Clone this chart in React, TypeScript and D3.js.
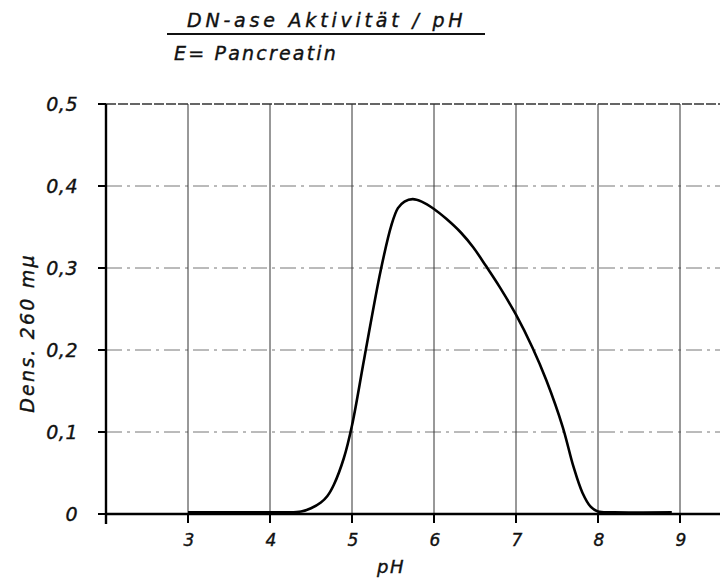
import React from "react";
import * as d3 from "d3";

const phValues = [3, 3.5, 4, 4.2, 4.38, 4.5, 4.62, 4.7, 4.78, 4.9, 5.0, 5.15, 5.35, 5.48, 5.56, 5.64, 5.74, 5.85, 6.0, 6.15, 6.33, 6.48, 6.63, 6.8, 7.0, 7.2, 7.37, 7.57, 7.7, 7.81, 7.91, 8.0, 8.2, 8.9];
const density = [0.002, 0.002, 0.002, 0.002, 0.003, 0.007, 0.014, 0.022, 0.036, 0.068, 0.108, 0.19, 0.297, 0.352, 0.373, 0.381, 0.384, 0.381, 0.372, 0.36, 0.343, 0.325, 0.303, 0.277, 0.243, 0.203, 0.163, 0.106, 0.058, 0.026, 0.009, 0.003, 0.002, 0.002];
const xTicks = [3, 4, 5, 6, 7, 8, 9];
const yTicks = [0, 0.1, 0.2, 0.3, 0.4, 0.5];
const yTickLabels = ["0", "0,1", "0,2", "0,3", "0,4", "0,5"];
const title = "DN-ase Aktivität / pH";
const subtitle = "E= Pancreatin";
const xLabel = "pH";
const yLabel = "Dens.  260 mμ";

const FONT = "'DejaVu Sans', sans-serif";

export default function App() {
  const x = d3.scaleLinear().domain([2, 9]).range([106, 680]);
  const y = d3.scaleLinear().domain([0, 0.5]).range([514, 104]);
  const pts = phValues.map((p, i) => [p, density[i]] as [number, number]);
  const line = d3
    .line<[number, number]>()
    .x((d) => x(d[0]))
    .y((d) => y(d[1]))
    .curve(d3.curveCatmullRom.alpha(0.5));

  const ink = { fill: "#111", stroke: "#111", strokeWidth: 0.4 };

  return (
    <svg
      width={720}
      height={578}
      style={{ position: "absolute", left: 0, top: 0, background: "#fff" }}
      fontFamily={FONT}
    >
      {/* title */}
      <text x={187} y={27} fontSize={19} fontStyle="italic" letterSpacing={3.8} {...ink}>
        {title}
      </text>
      <line x1={167} x2={485} y1={34} y2={34} stroke="#111" strokeWidth={1.8} />
      <text x={174} y={60} fontSize={19} fontStyle="italic" letterSpacing={2.2} {...ink}>
        {subtitle}
      </text>

      {/* horizontal grid */}
      {yTicks.slice(1).map((t) => (
        <line
          key={"h" + t}
          x1={x(2)}
          x2={720}
          y1={y(t)}
          y2={y(t)}
          stroke={t === 0.5 ? "#333" : "#777"}
          strokeWidth={t === 0.5 ? 1.4 : 1}
          strokeDasharray={t === 0.5 ? "10 2" : "16 5 3 5"}
        />
      ))}
      {/* vertical grid */}
      {xTicks.map((t) => (
        <line
          key={"v" + t}
          x1={x(t)}
          x2={x(t)}
          y1={y(0.5)}
          y2={y(0)}
          stroke="#333"
          strokeWidth={1}
        />
      ))}

      {/* axes */}
      <line x1={x(2)} x2={720} y1={y(0)} y2={y(0)} stroke="#000" strokeWidth={2.4} />
      <line x1={x(2)} x2={x(2)} y1={y(0.5)} y2={y(0) + 10} stroke="#000" strokeWidth={2.4} />
      {xTicks.map((t) => (
        <line key={"xt" + t} x1={x(t)} x2={x(t)} y1={y(0)} y2={y(0) + 9} stroke="#000" strokeWidth={2} />
      ))}
      {yTicks.map((t) => (
        <line key={"yt" + t} x1={x(2) - 8} x2={x(2)} y1={y(t)} y2={y(t)} stroke="#000" strokeWidth={2} />
      ))}

      {/* tick labels */}
      {xTicks.map((t) => (
        <text key={"xl" + t} x={x(t) + 1} y={546} fontSize={17} fontStyle="italic" textAnchor="middle" {...ink}>
          {t}
        </text>
      ))}
      {yTicks.map((t, i) => (
        <text
          key={"yl" + t}
          x={78}
          y={y(t) + 7}
          fontSize={19}
          fontStyle="italic"
          textAnchor="end"
          letterSpacing={0.5}
          {...ink}
        >
          {yTickLabels[i]}
        </text>
      ))}

      {/* axis labels */}
      <text x={391} y={573} fontSize={18} fontStyle="italic" textAnchor="middle" letterSpacing={1.5} {...ink}>
        {xLabel}
      </text>
      <text
        transform={`translate(34, 333) rotate(-90)`}
        fontSize={19}
        fontStyle="italic"
        textAnchor="middle"
        letterSpacing={2.2}
        {...ink}
      >
        {yLabel}
      </text>

      {/* curve */}
      <path d={line(pts) || ""} fill="none" stroke="#000" strokeWidth={2.6} strokeLinejoin="round" />
    </svg>
  );
}
